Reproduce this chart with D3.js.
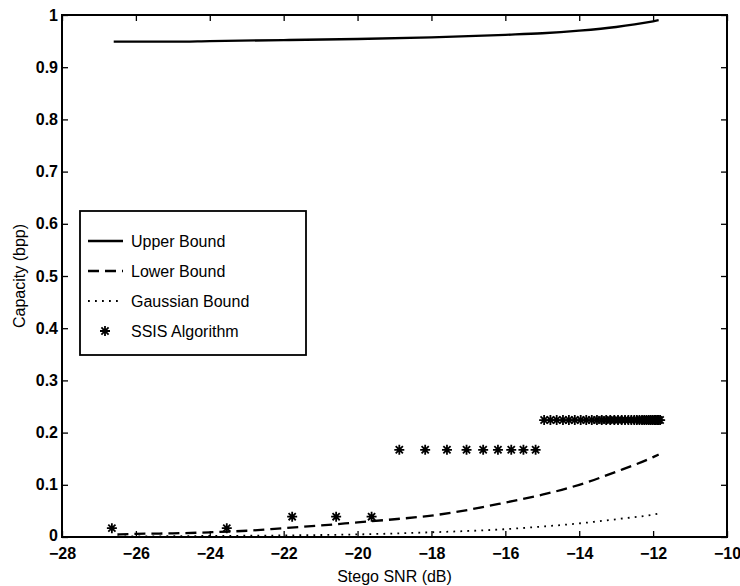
<!DOCTYPE html>
<html>
<head>
<meta charset="utf-8">
<script src="https://cdn.jsdelivr.net/npm/d3@7"></script>
<style>
  html, body { margin: 0; padding: 0; background: #fff; }
  svg { display: block; }
  text { font-family: "Liberation Sans", Arial, Helvetica, sans-serif; fill: #000; }
</style>
</head>
<body>
<svg id="chart" width="740" height="586"></svg>
<script>
// Stego SNR (dB) vs capacity (bits per pixel)
const upperSNR = [-26.6, -25, -24, -22, -20, -18, -16, -15, -14, -13, -12.5, -12, -11.85];
const upperCap = [0.949, 0.949, 0.950, 0.952, 0.954, 0.957, 0.962, 0.965, 0.970, 0.977, 0.982, 0.988, 0.990];

const lowerSNR = [-26.5, -26, -25, -24, -23, -22, -21, -20, -19, -18, -17, -16, -15, -14, -13, -12, -11.85];
const lowerCap = [0.005, 0.006, 0.007, 0.009, 0.012, 0.017, 0.022, 0.028, 0.034, 0.041, 0.052, 0.066, 0.081, 0.100, 0.125, 0.153, 0.158];

const gaussSNR = [-26.5, -25, -24, -22, -20, -18, -16, -15, -14, -13, -12, -11.85];
const gaussCap = [0.001, 0.0015, 0.002, 0.003, 0.005, 0.009, 0.015, 0.020, 0.026, 0.034, 0.043, 0.045];

const ssisSNR = [-26.65, -23.54, -21.77, -20.58, -19.62,
  -18.87, -18.17, -17.58, -17.05, -16.6, -16.2, -15.84, -15.51, -15.18,
  -14.95, -14.78, -14.61, -14.44, -14.28, -14.12, -13.96, -13.81, -13.66, -13.52, -13.39,
  -13.27, -13.16, -13.05, -12.95, -12.85, -12.76, -12.67, -12.59, -12.51, -12.44, -12.37,
  -12.30, -12.24, -12.18, -12.12, -12.07, -12.02, -11.97, -11.93, -11.89, -11.85, -11.81];
const ssisCap = [0.017, 0.017, 0.039, 0.039, 0.039,
  0.167, 0.167, 0.167, 0.167, 0.167, 0.167, 0.167, 0.167, 0.167,
  0.224, 0.224, 0.224, 0.224, 0.224, 0.224, 0.224, 0.224, 0.224, 0.224, 0.224,
  0.224, 0.224, 0.224, 0.224, 0.224, 0.224, 0.224, 0.224, 0.224, 0.224, 0.224,
  0.224, 0.224, 0.224, 0.224, 0.224, 0.224, 0.224, 0.224, 0.224, 0.224, 0.224];

const xTicks = [-28, -26, -24, -22, -20, -18, -16, -14, -12, -10];
const yTicks = [0, 0.1, 0.2, 0.3, 0.4, 0.5, 0.6, 0.7, 0.8, 0.9, 1];

const legendLabels = ["Upper Bound", "Lower Bound", "Gaussian Bound", "SSIS Algorithm"];

const svg = d3.select("#chart");
const plot = { left: 62, right: 727, top: 15, bottom: 537 };

const x = d3.scaleLinear().domain([-28, -10]).range([plot.left, plot.right]);
const y = d3.scaleLinear().domain([0, 1]).range([plot.bottom, plot.top]);

const fmtX = d => (d < 0 ? "\u2212" + Math.abs(d) : String(d));
const fmtY = d => String(+d.toFixed(1));

// Axes with inward ticks on all four sides
svg.append("g")
  .attr("transform", `translate(0,${plot.bottom})`)
  .call(d3.axisBottom(x).tickValues(xTicks).tickFormat(fmtX).tickSizeInner(-6).tickSizeOuter(0).tickPadding(11))
  .call(g => g.selectAll("text").attr("font-size", 16).attr("font-weight", "bold").attr("dy", "0.71em"));

svg.append("g")
  .attr("transform", `translate(${plot.left},0)`)
  .call(d3.axisLeft(y).tickValues(yTicks).tickFormat(fmtY).tickSizeInner(-6).tickSizeOuter(0).tickPadding(4))
  .call(g => g.selectAll("text").attr("font-size", 16).attr("font-weight", "bold")
    .attr("dy", d => (d === 0 ? "0.2em" : "0.32em")));

svg.append("g")
  .attr("transform", `translate(0,${plot.top})`)
  .call(d3.axisTop(x).tickValues(xTicks).tickFormat("").tickSizeInner(-6).tickSizeOuter(0));

svg.append("g")
  .attr("transform", `translate(${plot.right},0)`)
  .call(d3.axisRight(y).tickValues(yTicks).tickFormat("").tickSizeInner(-6).tickSizeOuter(0));

svg.selectAll(".domain").remove();
svg.selectAll(".tick line").attr("stroke", "#000").attr("stroke-width", 1.3);

// Frame
svg.append("rect")
  .attr("x", plot.left).attr("y", plot.top)
  .attr("width", plot.right - plot.left).attr("height", plot.bottom - plot.top)
  .attr("fill", "none").attr("stroke", "#000").attr("stroke-width", 2);

// Axis titles
svg.append("text")
  .attr("x", (plot.left + plot.right) / 2).attr("y", 582)
  .attr("text-anchor", "middle").attr("font-size", 16)
  .text("Stego SNR (dB)");

svg.append("text")
  .attr("transform", `translate(25,${(plot.top + plot.bottom) / 2}) rotate(-90)`)
  .attr("text-anchor", "middle").attr("font-size", 16)
  .text("Capacity (bpp)");

// Curves
const line = d3.line().x(d => x(d[0])).y(d => y(d[1])).curve(d3.curveMonotoneX);
const zip = (a, b) => a.map((v, i) => [v, b[i]]);

const styles = [
  { dash: null, width: 2.3 },
  { dash: "11,6", width: 2.3 },
  { dash: "1.8,5.2", width: 1.8 }
];

svg.append("path").datum(zip(upperSNR, upperCap))
  .attr("d", line).attr("fill", "none").attr("stroke", "#000").attr("stroke-width", styles[0].width);
svg.append("path").datum(zip(lowerSNR, lowerCap))
  .attr("d", line).attr("fill", "none").attr("stroke", "#000")
  .attr("stroke-width", styles[1].width).attr("stroke-dasharray", styles[1].dash);
svg.append("path").datum(zip(gaussSNR, gaussCap))
  .attr("d", line).attr("fill", "none").attr("stroke", "#000")
  .attr("stroke-width", styles[2].width).attr("stroke-dasharray", styles[2].dash);

// Asterisk marker
const star = "M-5,0H5M0,-5V5M-3.6,-3.6L3.6,3.6M-3.6,3.6L3.6,-3.6";
svg.append("g").selectAll("path")
  .data(zip(ssisSNR, ssisCap))
  .join("path")
  .attr("transform", d => `translate(${x(d[0])},${y(d[1])})`)
  .attr("d", star)
  .attr("fill", "none").attr("stroke", "#000").attr("stroke-width", 1.8);

// Legend
const leg = { x: 80, y: 211, w: 226, h: 144, row: 30, first: 30 };
const lg = svg.append("g");
lg.append("rect")
  .attr("x", leg.x).attr("y", leg.y).attr("width", leg.w).attr("height", leg.h)
  .attr("fill", "#fff").attr("stroke", "#000").attr("stroke-width", 1.8);

legendLabels.forEach((label, i) => {
  const cy = leg.y + leg.first + i * leg.row;
  if (i < 3) {
    lg.append("line")
      .attr("x1", leg.x + 8).attr("x2", leg.x + 43).attr("y1", cy).attr("y2", cy)
      .attr("stroke", "#000").attr("stroke-width", styles[i].width)
      .attr("stroke-dasharray", styles[i].dash);
  } else {
    lg.append("path")
      .attr("transform", `translate(${leg.x + 25},${cy})`)
      .attr("d", star).attr("fill", "none").attr("stroke", "#000").attr("stroke-width", 1.8);
  }
  lg.append("text")
    .attr("x", leg.x + 51).attr("y", cy).attr("dy", "0.35em")
    .attr("font-size", 16).text(label);
});
</script>
</body>
</html>
